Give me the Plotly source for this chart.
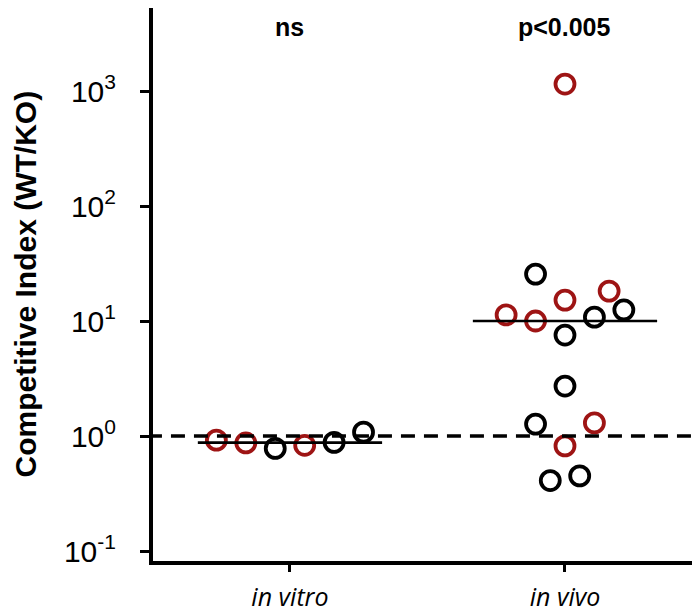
import numpy as np
import plotly.graph_objects as go

categories = ["in vitro", "in vivo"]

# in vitro
vitro_values = [0.92, 0.87, 0.78, 0.83, 0.88, 1.08]
vitro_colors = ["r", "r", "k", "r", "k", "k"]
vitro_jitter = [-2.5, -1.5, -0.5, 0.5, 1.5, 2.5]

# in vivo
vivo_values = [25.6, 18.2, 15.2, 12.5, 11.3, 10.0, 10.8, 7.55, 2.72, 1.27, 1.30, 0.82, 0.41, 0.45, 1150]
vivo_colors = ["k", "r", "r", "k", "r", "r", "k", "k", "k", "k", "r", "r", "k", "k", "r"]
vivo_jitter = [-1, 1.5, 0, 2, -2, -1, 1, 0, 0, -1, 1, 0, -0.5, 0.5, 0]

stats_labels = ["ns", "p<0.005"]
ytick_vals = [0.1, 1, 10, 100, 1000]
ytick_text = ["10<sup>-1</sup>", "10<sup>0</sup>", "10<sup>1</sup>", "10<sup>2</sup>", "10<sup>3</sup>"]

RED = "#9e1414"
BLACK = "#000000"
STEP = 0.107

groups = [(0, vitro_values, vitro_colors, vitro_jitter), (1, vivo_values, vivo_colors, vivo_jitter)]

fig = go.Figure()
for code, col in [("r", RED), ("k", BLACK)]:
    xs, ys = [], []
    for cx, vals, cols, jit in groups:
        for v, c, j in zip(vals, cols, jit):
            if c == code:
                xs.append(cx + j * STEP)
                ys.append(v)
    fig.add_trace(go.Scatter(x=xs, y=ys, mode="markers",
                             marker=dict(symbol="circle-open", size=19, color=col,
                                         line=dict(width=3.8, color=col)),
                             showlegend=False, hoverinfo="y"))

# median lines
for cx, vals, _, _ in groups:
    m = float(np.median(vals))
    fig.add_trace(go.Scatter(x=[cx - 0.335, cx + 0.335], y=[m, m], mode="lines",
                             line=dict(color="black", width=2.6), showlegend=False, hoverinfo="skip"))

# reference line at 1
fig.add_trace(go.Scatter(x=[-0.6, 1.7], y=[1, 1], mode="lines",
                         line=dict(color="black", width=3.6, dash="14px,9px"),
                         showlegend=False, hoverinfo="skip"))

for cx, lab in zip([0, 1], stats_labels):
    fig.add_annotation(x=cx, y=1, yref="paper", text="<b>" + lab + "</b>", showarrow=False,
                       yanchor="middle", yshift=-19,
                       font=dict(family="Liberation Sans, Arial", size=25, color="black"))

fig.add_annotation(x=0, xref="paper", y=0.5, yref="paper", xshift=-128, textangle=-90,
                   text="<b>Competitive Index (WT/KO)</b>", showarrow=False,
                   xanchor="center", yanchor="middle",
                   font=dict(family="Liberation Sans, Arial", size=30, color="black"))

fig.update_layout(
    width=700, height=616,
    margin=dict(l=145, r=0, t=0, b=63),
    paper_bgcolor="white", plot_bgcolor="white",
    font=dict(family="Liberation Sans, Arial", color="black"),
    xaxis=dict(range=[-0.498, 1.52], tickmode="array", tickvals=[0, 1],
               ticktext=["<i>" + c + "</i>" for c in categories],
               tickfont=dict(family="Open Sans, Noto Sans", size=25),
               ticklabelstandoff=4,
               showline=True, linewidth=4, linecolor="black", ticks="outside",
               ticklen=7, tickwidth=3, tickcolor="black", showgrid=False, zeroline=False),
    yaxis=dict(type="log", range=[-1.087, 3.722], tickmode="array", tickvals=ytick_vals,
               ticktext=ytick_text, tickfont=dict(family="Liberation Sans, Arial", size=30),
               ticklabelstandoff=18,
               showline=True, linewidth=4, linecolor="black", ticks="outside",
               ticklen=9, tickwidth=3, tickcolor="black", showgrid=False, zeroline=False),
)

fig.write_html("out.html")
